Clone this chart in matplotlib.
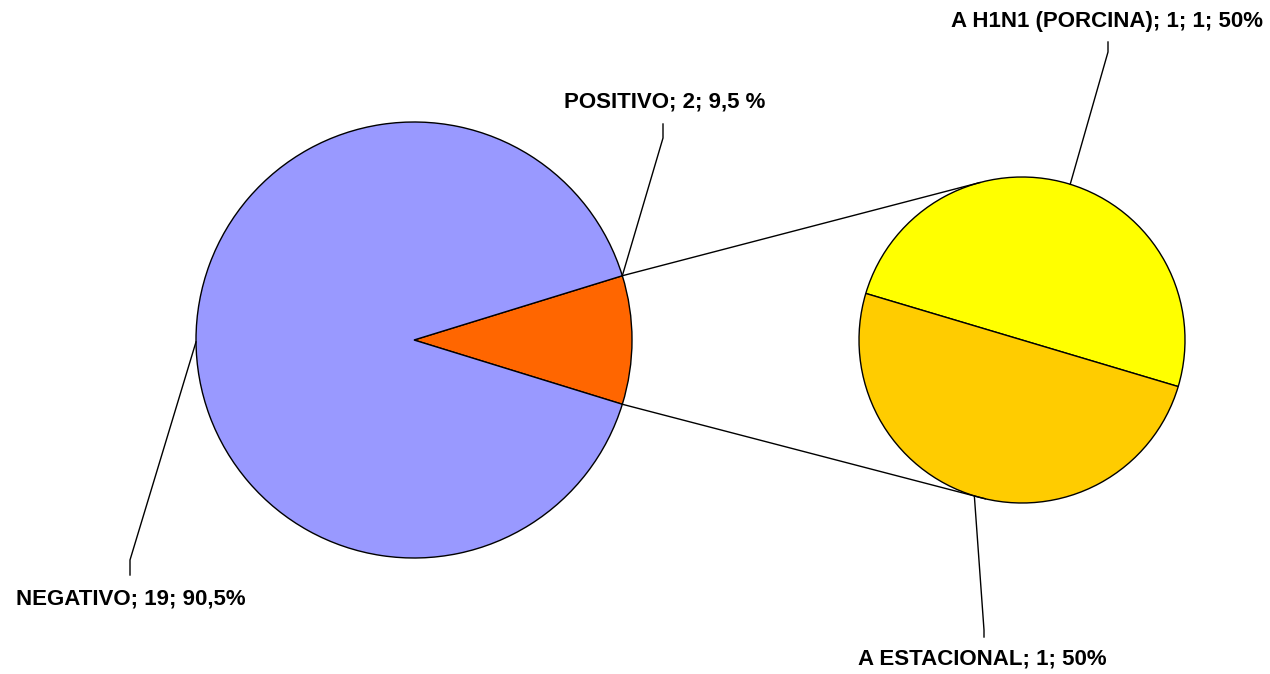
import numpy as np
import matplotlib
matplotlib.use("Agg")
import matplotlib.pyplot as plt

# Data
main_labels = ["POSITIVO", "NEGATIVO"]
main_values = [2, 19]
main_pct = ["9,5 %", "90,5%"]
sub_labels = ["A H1N1 (PORCINA)", "A ESTACIONAL"]
sub_values = [1, 1]
sub_text = ["A H1N1 (PORCINA); 1; 1; 50%", "A ESTACIONAL; 1; 50%"]
main_text = ["POSITIVO; 2; 9,5 %", "NEGATIVO; 19; 90,5%"]

main_colors = ["#FF6600", "#9999FF"]
sub_colors = ["#FFFF00", "#FFCC00"]

W, H = 1270, 674
fig = plt.figure(figsize=(W / 100, H / 100), dpi=100)
ax = fig.add_axes([0, 0, 1, 1])

# geometry (pixel-like coordinates, y up)
c1 = (414, H - 340)
r1 = 218
c2 = (1022, H - 340)
r2 = 163

frac_pos = main_values[0] / sum(main_values)
half = frac_pos * 180.0
wp = dict(edgecolor="black", linewidth=1.0)

ax.pie(main_values, colors=main_colors, startangle=-half, counterclock=True,
       radius=r1, center=c1, wedgeprops=wp, frame=True)
sub_start = -16.6
ax.pie(sub_values, colors=sub_colors, startangle=sub_start, counterclock=True,
       radius=r2, center=c2, wedgeprops=wp, frame=True)

def pt(c, r, ang):
    a = np.deg2rad(ang)
    return c[0] + r * np.cos(a), c[1] + r * np.sin(a)

# connector lines between pies
p_top = pt(c1, r1, half)
p_bot = pt(c1, r1, -half)
q_top = pt(c2, r2, 105)
q_bot = pt(c2, r2, -103)
ax.plot([p_top[0], q_top[0]], [p_top[1], q_top[1]], color="black", lw=1.0)
ax.plot([p_bot[0], q_bot[0]], [p_bot[1], q_bot[1]], color="black", lw=1.0)

font = dict(family="Liberation Sans", weight="bold", fontsize=16)

def leader(start, elbow, end):
    ax.plot([start[0], elbow[0], end[0]], [start[1], elbow[1], end[1]],
            color="black", lw=1.0, solid_joinstyle="miter")

# POSITIVO
s = pt(c1, r1, half)
leader(s, (663, H - 138), (663, H - 124))
ax.text(665, H - 102, main_text[0], ha="center", va="center", **font)
# NEGATIVO
s = pt(c1, r1, 180.5)
leader(s, (130, H - 560), (130, H - 575))
ax.text(131, H - 599, main_text[1], ha="center", va="center", **font)
# A H1N1
s = pt(c2, r2, 72.8)
leader(s, (1108, H - 52), (1108, H - 42))
ax.text(1107, H - 21, sub_text[0], ha="center", va="center", **font)
# A ESTACIONAL
s = pt(c2, r2, -107)
leader(s, (984, H - 630), (984, H - 637))
ax.text(982, H - 659, sub_text[1], ha="center", va="center", **font)

ax.set_xlim(0, W)
ax.set_ylim(0, H)
ax.set_aspect("equal")
ax.axis("off")
fig.savefig("out.png", dpi=100, facecolor="white")
